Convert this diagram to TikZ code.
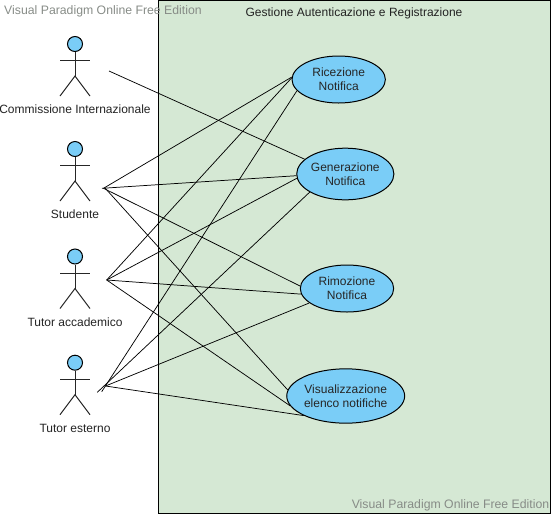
\documentclass[tikz,border=0pt]{standalone}
\usepackage{fontspec}
\usepackage{xcolor}
\usetikzlibrary{shapes.geometric}
\setmainfont{Liberation Sans}
\definecolor{sysgreen}{HTML}{D5E8D4}
\definecolor{caseblue}{HTML}{7ACDF7}
\definecolor{markgray}{RGB}{135,140,135}
\definecolor{labeltext}{RGB}{35,35,35}

\tikzset{
    usecase/.style={ellipse, draw=black, fill=caseblue, line width=0.75pt, inner sep=0pt, align=center,
        font=\fontsize{9}{10.5}\selectfont, text=black!85},
    actorlabel/.style={font=\fontsize{9}{10.5}\selectfont, text=labeltext},
    watermark/.style={font=\fontsize{9.2}{11}\selectfont, text=markgray},
    assoc/.style={line width=0.55pt}
}

\begin{document}
\begin{tikzpicture}[x=0.75pt, y=-0.75pt]
    \useasboundingbox (0, 0) rectangle (553, 515);

    % system boundary
    \node[rectangle, draw=black, fill=sysgreen, line width=0.75pt, minimum width=294.5pt, minimum height=385pt,
        inner sep=0pt] (sys) at (354.5, 257) {};
    \node[actorlabel] (systitle) at (354, 13.5) {Gestione Autenticazione e Registrazione};

    % actors
    \foreach \name/\dy/\lab in {comm/0/Commissione Internazionale, stud/105/Studente, tacc/212.5/Tutor accademico, test/318.7/Tutor esterno} {
        \begin{scope}[shift={(75, \dy)}]
            \node[circle, draw=black, fill=caseblue, line width=0.75pt, minimum size=11.25pt, inner sep=0pt] (\name head) at (0, 44) {};
            \draw[line width=0.75pt, black!85] (\name head.south) -- (0, 76);
            \draw[line width=0.75pt, black!85] (-15, 60.5) -- (15, 60.5);
            \draw[line width=0.75pt, black!85] (-15, 96) -- (0, 76) -- (15, 96);
            \node[actorlabel] (\name label) at (0, 109.5) {\lab};
        \end{scope}
    }

    % use cases
    \node[usecase, minimum width=70pt, minimum height=35.25pt] (ric) at (338.7, 79.5) {Ricezione\\Notifica};
    \node[usecase, minimum width=72.5pt, minimum height=38.75pt] (gen) at (345.3, 174) {Generazione\\Notifica};
    \node[usecase, minimum width=70pt, minimum height=35.25pt] (rim) at (347, 288.5) {Rimozione\\Notifica};
    \node[usecase, minimum width=81pt, minimum height=40.75pt] (vis) at (345.7, 396) {Visualizzazione\\elenco notifiche};

    % free ends near the actors
    \coordinate (commend) at (109, 71);
    \coordinate (studa) at (103.5, 188.3);
    \coordinate (studb) at (102, 188.3);
    \coordinate (studc) at (105, 188);
    \coordinate (tacca) at (106.7, 280);
    \coordinate (tesa) at (101.7, 391.7);
    \coordinate (tesb) at (97.3, 392.3);
    \coordinate (tesc) at (105.5, 386);

    % associations
    \draw[assoc] (commend) -- (gen.160);
    \draw[assoc] (studa) -- (ric.177);
    \draw[assoc] (studb) -- (gen.182);
    \draw[assoc] (studa) -- (rim.177);
    \draw[assoc] (studc) -- (vis.174);
    \draw[assoc] (tacca) -- (ric.178);
    \draw[assoc] (tacca) -- (gen.185);
    \draw[assoc] (tacca) -- (rim.187);
    \draw[assoc] (tacca) -- (vis.190);
    \draw[assoc] (tesa) -- (ric.195);
    \draw[assoc] (tesb) -- (gen.207);
    \draw[assoc] (tesc) -- (rim.201);
    \draw[assoc] (tesc) -- (vis.205);

    % editor marks
    \node[watermark] (marktop) at (103, 11.5) {Visual Paradigm Online Free Edition};
    \node[watermark] (markbot) at (450.5, 505.5) {Visual Paradigm Online Free Edition};
\end{tikzpicture}
\end{document}
